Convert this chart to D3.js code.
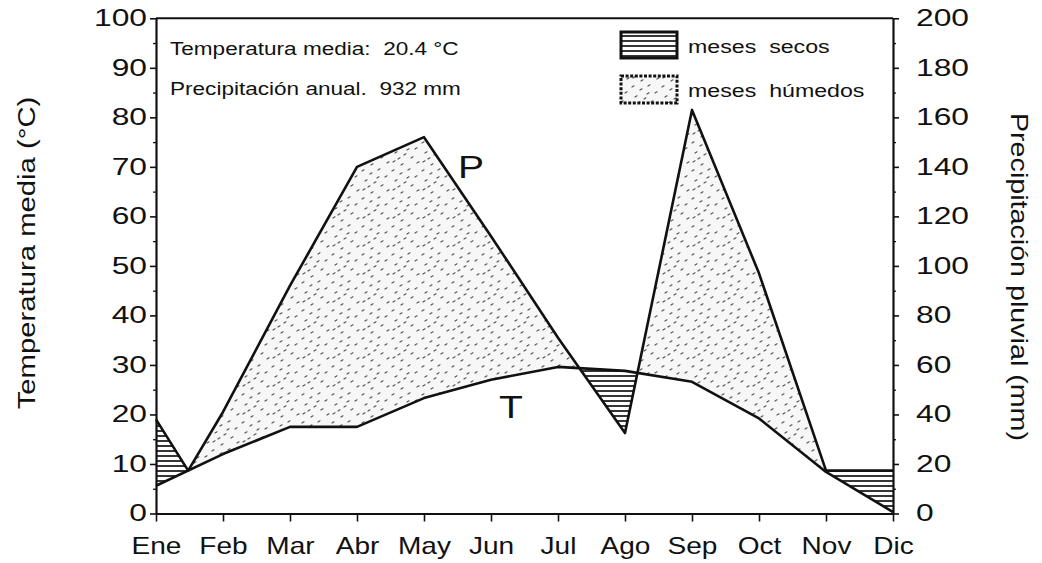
<!DOCTYPE html>
<html>
<head>
<meta charset="utf-8">
<script src="https://cdn.jsdelivr.net/npm/d3@7"></script>
<style>
  html, body { margin: 0; padding: 0; background: #fff; }
  svg { display: block; }
  text { font-family: "Liberation Sans", Arial, sans-serif; fill: #111; white-space: pre; }
</style>
</head>
<body>
<svg id="chart" width="1042" height="563"></svg>
<script>
// ---------- data ----------
const meses = ["Ene", "Feb", "Mar", "Abr", "May", "Jun", "Jul", "Ago", "Sep", "Oct", "Nov", "Dic"];
const temperatura = [5.6, 12.0, 17.5, 17.5, 23.3, 27.0, 29.6, 28.8, 26.6, 19.2, 8.4, 0.3];   // °C
const precipitacion = [38, 41, 92, 140, 152, 112, 71, 32.5, 163, 97, 17.3, 17.3];          // mm
// extra vertex of the P trace between Ene and Feb (month position, mm)
const verticeP = [0.48, 17.3];
// periods drawn as dry months besides those where P < 2T (month positions)
const tramosSecos = [[0, 0.48], [10, 11]];
const ticksT = [0, 10, 20, 30, 40, 50, 60, 70, 80, 90, 100];
const ticksP = [0, 20, 40, 60, 80, 100, 120, 140, 160, 180, 200];
const textoTemp = "Temperatura media:  20.4 °C";
const textoPrec = "Precipitación anual.  932 mm";
const leyenda = ["meses  secos", "meses  húmedos"];

// ---------- layout ----------
const SX = 1.22;  // horizontal extension of the original typeface
const SXD = 1.38; // digits of the value axes are wider still
const svg = d3.select("#chart");
const x = d3.scaleLinear().domain([0, 11]).range([156, 893]);
const yT = d3.scaleLinear().domain([0, 100]).range([513.5, 18.3]);
const yP = d3.scaleLinear().domain([0, 200]).range([513.5, 18.3]);

const defs = svg.append("defs");
// horizontal hatching
const hatch = defs.append("pattern").attr("id", "hatch").attr("patternUnits", "userSpaceOnUse")
  .attr("width", 8).attr("height", 5);
hatch.append("rect").attr("width", 8).attr("height", 5).attr("fill", "#fff");
hatch.append("line").attr("x1", 0).attr("x2", 8).attr("y1", 1).attr("y2", 1)
  .attr("stroke", "#111").attr("stroke-width", 1.7);
// stipple
const stip = defs.append("pattern").attr("id", "stip").attr("patternUnits", "userSpaceOnUse")
  .attr("width", 30).attr("height", 28);
stip.append("rect").attr("width", 30).attr("height", 28).attr("fill", "#f7f7f7");
const specks = [[2,3],[10,6],[18,2],[25,9],[5,13],[14,15],[21,18],[27,23],[3,22],[11,25],[17,10],[8,19]];
stip.selectAll("path").data(specks).join("path")
  .attr("d", d => `M${d[0]},${d[1]} l2,-1.2`)
  .attr("stroke", "#555").attr("stroke-width", 1.2).attr("stroke-linecap", "round");

// ---------- helper functions ----------
const pPts = precipitacion.map((v, i) => [i, v]);
pPts.splice(1, 0, verticeP);
function lerp(pts, p) {
  for (let i = 0; i < pts.length - 1; i++) {
    const [a, va] = pts[i], [b, vb] = pts[i + 1];
    if (p >= a && p <= b) return va + (vb - va) * (p - a) / (b - a);
  }
  return pts[pts.length - 1][1];
}
const tPts = temperatura.map((v, i) => [i, v]);
const tAt = p => lerp(tPts, p);
const pAt = p => lerp(pPts, p);

const positions = Array.from(new Set([...tPts.map(d => d[0]), ...pPts.map(d => d[0])])).sort((a, b) => a - b);

// split into intervals with dry / humid classification
const secos = [], humedos = [];
for (let i = 0; i < positions.length - 1; i++) {
  const a = positions[i], b = positions[i + 1];
  const d0 = pAt(a) / 2 - tAt(a), d1 = pAt(b) / 2 - tAt(b);
  const cuts = [a];
  if (d0 * d1 < 0) cuts.push(a + (b - a) * d0 / (d0 - d1));
  cuts.push(b);
  for (let k = 0; k < cuts.length - 1; k++) {
    const m = (cuts[k] + cuts[k + 1]) / 2;
    const forced = tramosSecos.some(r => m >= r[0] && m <= r[1]);
    const dry = forced || pAt(m) / 2 < tAt(m);
    (dry ? secos : humedos).push([cuts[k], cuts[k + 1]]);
  }
}
function makeClip(id, spans) {
  const cp = defs.append("clipPath").attr("id", id);
  cp.selectAll("rect").data(spans).join("rect")
    .attr("x", d => x(d[0]) - 0.3).attr("width", d => x(d[1]) - x(d[0]) + 0.6)
    .attr("y", 0).attr("height", 563);
}
makeClip("clipSecos", secos);
makeClip("clipHumedos", humedos);

const area = d3.area()
  .x(p => x(p)).y0(p => yT(tAt(p))).y1(p => yP(pAt(p)));
svg.append("path").datum(positions).attr("d", area)
  .attr("fill", "url(#stip)").attr("clip-path", "url(#clipHumedos)");
svg.append("path").datum(positions).attr("d", area)
  .attr("fill", "url(#hatch)").attr("clip-path", "url(#clipSecos)");

// lines
const lineT = d3.line().x(d => x(d[0])).y(d => yT(d[1]));
const lineP = d3.line().x(d => x(d[0])).y(d => yP(d[1]));
svg.append("path").datum(tPts).attr("d", lineT)
  .attr("fill", "none").attr("stroke", "#111").attr("stroke-width", 2.6).attr("stroke-linejoin", "round");
svg.append("path").datum(pPts).attr("d", lineP)
  .attr("fill", "none").attr("stroke", "#111").attr("stroke-width", 2.6).attr("stroke-linejoin", "round");

// ---------- axes ----------
function styleAxis(g) {
  g.select(".domain").attr("stroke", "#111").attr("stroke-width", 2.2);
  g.selectAll(".tick line").attr("stroke", "#111").attr("stroke-width", 1.6);
  g.selectAll("text").style("font-size", "23px").attr("fill", "#111")
    .style("font-family", '"Liberation Sans", Arial, sans-serif');
}
// minor ticks
const minorT = d3.range(5, 100, 10);
const minorP = d3.range(10, 200, 20);
svg.append("g").attr("transform", `translate(${x(0)},0)`)
  .call(d3.axisLeft(yT).tickValues(minorT).tickSize(3).tickFormat(""))
  .call(g => { g.select(".domain").remove(); g.selectAll("line").attr("stroke", "#111").attr("stroke-width", 1.3); });
svg.append("g").attr("transform", `translate(${x(11)},0)`)
  .call(d3.axisRight(yP).tickValues(minorP).tickSize(3).tickFormat(""))
  .call(g => { g.select(".domain").remove(); g.selectAll("line").attr("stroke", "#111").attr("stroke-width", 1.3); });

const gL = svg.append("g").attr("transform", `translate(${x(0)},0)`)
  .call(d3.axisLeft(yT).tickValues(ticksT).tickSize(6).tickSizeOuter(0).tickFormat(d3.format("d")));
styleAxis(gL);
gL.selectAll(".tick text").attr("x", -9 / SXD).attr("transform", `scale(${SXD},1)`);

const gR = svg.append("g").attr("transform", `translate(${x(11)},0)`)
  .call(d3.axisRight(yP).tickValues(ticksP).tickSize(6).tickSizeOuter(0).tickFormat(d3.format("d")));
styleAxis(gR);
gR.selectAll(".tick text").attr("x", 23 / SXD).attr("transform", `scale(${SXD},1)`);

const gB = svg.append("g").attr("transform", `translate(0,${yT(0)})`)
  .call(d3.axisBottom(x).tickValues(d3.range(12)).tickSize(8).tickSizeOuter(0).tickFormat(i => meses[i]));
styleAxis(gB);
gB.selectAll(".tick text").attr("y", 40.5).attr("dy", 0).attr("transform", `scale(${SX},1)`);

// top frame
svg.append("line").attr("x1", x(0)).attr("x2", x(11)).attr("y1", yT(100)).attr("y2", yT(100))
  .attr("stroke", "#111").attr("stroke-width", 2);

// ---------- texts ----------
function addText(str, tx, ty, size, opts = {}) {
  const t = svg.append("text").text(str)
    .attr("transform", `translate(${tx},${ty}) rotate(${opts.rot || 0}) scale(${SX},1)`)
    .style("font-size", size + "px")
    .attr("text-anchor", opts.anchor || "start");
  return t;
}
addText(textoTemp, 170, 55, 18.5);
addText(textoPrec, 170, 95, 18.5);
addText("Temperatura media (°C)", 35, 253, 24, { rot: -90, anchor: "middle" });
addText("Precipitación pluvial (mm)", 1011, 277, 23.5, { rot: 90, anchor: "middle" });
addText("P", 458, 178, 32);
addText("T", 499, 418, 32);

// legend
const lg = [{ fill: "url(#hatch)", y: 32, h: 26, dash: null, label: leyenda[0], base: 53.3 },
            { fill: "url(#stip)", y: 76, h: 27, dash: "3,1.6", label: leyenda[1], base: 97.3 }];
lg.forEach(d => {
  svg.append("rect").attr("x", 621).attr("y", d.y).attr("width", 56).attr("height", d.h)
    .attr("fill", d.fill).attr("stroke", "#111").attr("stroke-width", 3)
    .attr("stroke-dasharray", d.dash);
  addText(d.label, 688, d.base, 19);
});
</script>
</body>
</html>
